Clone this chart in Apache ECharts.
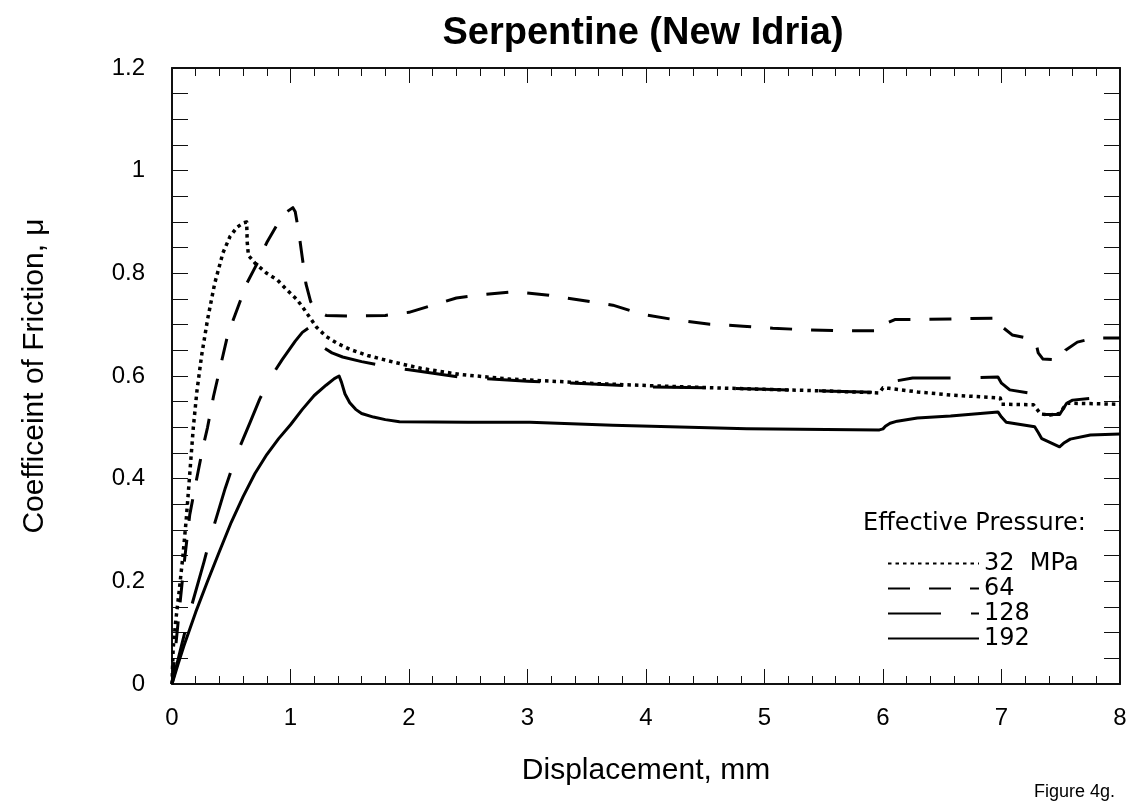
<!DOCTYPE html>
<html>
<head>
<meta charset="utf-8">
<script src="https://cdn.jsdelivr.net/npm/echarts@6/dist/echarts.min.js"></script>
<style>
html,body{margin:0;padding:0;background:#fff;}
#chart{width:1138px;height:807px;}
</style>
</head>
<body>
<div id="chart"></div>
<script>
// Displacement (mm) vs coefficient of friction
const p32 = [[0,0],[0.01,0.07],[0.03,0.12],[0.06,0.18],[0.09,0.245],[0.12,0.32],[0.15,0.41],[0.18,0.5],[0.21,0.57],[0.25,0.64],[0.3,0.71],[0.36,0.78],[0.43,0.84],[0.49,0.872],[0.55,0.89],[0.6,0.898],[0.63,0.9],[0.635,0.86],[0.645,0.835],[0.7,0.82],[0.8,0.8],[0.89,0.787],[0.96,0.77],[1.05,0.75],[1.1,0.735],[1.16,0.715],[1.22,0.695],[1.3,0.677],[1.4,0.663],[1.5,0.652],[1.65,0.64],[1.87,0.627],[2.1,0.615],[2.43,0.603],[2.85,0.594],[3.2,0.59],[3.6,0.585],[4.29,0.579],[5,0.574],[5.5,0.571],[5.97,0.567],[6.0,0.577],[6.05,0.576],[6.29,0.569],[6.57,0.563],[6.99,0.557],[7.0,0.545],[7.27,0.544],[7.3,0.535],[7.33,0.526],[7.41,0.524],[7.49,0.527],[7.53,0.54],[7.56,0.547],[7.8,0.546],[8,0.545]];
const p64 = [[0,0],[0.03,0.07],[0.06,0.14],[0.1,0.23],[0.15,0.33],[0.2,0.39],[0.26,0.46],[0.3,0.5],[0.35,0.56],[0.4,0.61],[0.47,0.68],[0.55,0.73],[0.63,0.78],[0.72,0.82],[0.8,0.86],[0.9,0.9],[0.97,0.92],[1.02,0.928],[1.04,0.92],[1.07,0.88],[1.1,0.83],[1.13,0.78],[1.17,0.745],[1.22,0.727],[1.3,0.718],[1.5,0.717],[1.8,0.718],[2.0,0.724],[2.2,0.738],[2.4,0.752],[2.6,0.758],[2.88,0.764],[3.16,0.758],[3.44,0.748],[3.72,0.738],[3.97,0.72],[4.26,0.709],[4.54,0.701],[4.82,0.697],[5.07,0.693],[5.36,0.69],[5.64,0.688],[5.97,0.688],[6.0,0.7],[6.1,0.71],[6.57,0.711],[6.99,0.713],[7.01,0.695],[7.09,0.68],[7.22,0.674],[7.29,0.665],[7.31,0.645],[7.35,0.633],[7.49,0.631],[7.54,0.65],[7.64,0.666],[7.78,0.674],[8,0.674]];
const p128 = [[0,0],[0.08,0.075],[0.16,0.148],[0.27,0.238],[0.33,0.29],[0.45,0.382],[0.55,0.45],[0.66,0.51],[0.74,0.555],[0.84,0.6],[0.93,0.632],[1.04,0.668],[1.1,0.685],[1.15,0.693],[1.19,0.695],[1.22,0.688],[1.25,0.672],[1.28,0.655],[1.35,0.645],[1.44,0.637],[1.6,0.628],[1.82,0.618],[2.0,0.612],[2.43,0.598],[3,0.59],[3.5,0.585],[4,0.579],[4.5,0.577],[5,0.574],[5.5,0.571],[5.98,0.568],[6.02,0.578],[6.1,0.59],[6.25,0.596],[6.71,0.596],[6.97,0.598],[7.0,0.586],[7.07,0.573],[7.28,0.565],[7.31,0.54],[7.35,0.525],[7.49,0.525],[7.55,0.547],[7.6,0.553],[7.79,0.557],[8,0.559]];
const p192 = [[0,0],[0.05,0.038],[0.1,0.074],[0.2,0.14],[0.3,0.2],[0.4,0.258],[0.5,0.315],[0.6,0.365],[0.7,0.41],[0.8,0.447],[0.9,0.478],[1.0,0.505],[1.1,0.535],[1.2,0.562],[1.3,0.582],[1.37,0.595],[1.41,0.6],[1.43,0.588],[1.46,0.565],[1.5,0.548],[1.55,0.535],[1.6,0.527],[1.7,0.52],[1.8,0.515],[1.92,0.511],[2.5,0.51],[3.02,0.51],[3.72,0.504],[4.85,0.497],[5.97,0.495],[6.0,0.497],[6.02,0.502],[6.06,0.508],[6.12,0.512],[6.29,0.518],[6.57,0.522],[6.97,0.53],[7.0,0.52],[7.04,0.51],[7.28,0.501],[7.31,0.49],[7.34,0.478],[7.49,0.462],[7.53,0.47],[7.58,0.477],[7.75,0.485],[8,0.487]];
const seriesNames = ['32  MPa', '64', '128', '192'];
const seriesData = [p32, p64, p128, p192];
const dashTypes = [[3.5, 4], [22, 19], [53, 30], 'solid'];

const chart = echarts.init(document.getElementById('chart'), null, {renderer: 'canvas'});
const AX = '#111';
const fontMain = 'Liberation Sans, Arial, Helvetica, sans-serif';

function xAx(pos, showLabel) {
  return {
    type: 'value', position: pos, min: 0, max: 8, interval: 1,
    axisLine: {show: true, onZero: false, lineStyle: {color: AX, width: 2}},
    axisTick: {show: true, inside: true, length: 15, lineStyle: {color: AX, width: 1}},
    minorTick: {show: true, splitNumber: 5, length: 8, lineStyle: {color: AX, width: 1}},
    splitLine: {show: false},
    axisLabel: {show: showLabel, fontSize: 24, color: '#000', margin: 22, fontFamily: fontMain},
    name: showLabel ? 'Displacement, mm' : '',
    nameLocation: 'middle', nameGap: 72,
    nameTextStyle: {fontSize: 30, color: '#000', fontFamily: fontMain}
  };
}
function yAx(pos, showLabel) {
  return {
    type: 'value', position: pos, min: 0, max: 1.2, interval: 0.2,
    axisLine: {show: true, onZero: false, lineStyle: {color: AX, width: 2}},
    axisTick: {show: true, inside: true, length: 16, lineStyle: {color: AX, width: 1}},
    minorTick: {show: true, splitNumber: 4, length: 16, lineStyle: {color: AX, width: 1}},
    splitLine: {show: false},
    axisLabel: {show: showLabel, fontSize: 24, color: '#000', margin: 27, fontFamily: fontMain},
    name: showLabel ? 'Coefficeint of Friction, μ' : '',
    nameLocation: 'middle', nameGap: 122, nameRotate: 90,
    nameTextStyle: {fontSize: 30, color: '#000', fontFamily: fontMain}
  };
}

const option = {
  backgroundColor: '#fff',
  animation: false,
  title: {
    text: 'Serpentine (New Idria)',
    left: 638, top: 10, textAlign: 'center',
    textStyle: {fontSize: 38, fontWeight: 'bold', color: '#000', fontFamily: fontMain}
  },
  grid: {left: 172, right: 18, top: 68, bottom: 123, containLabel: false},
  xAxis: [xAx('bottom', true), xAx('top', false)],
  yAxis: [yAx('left', true), yAx('right', false)],
  legend: {
    data: seriesNames,
    orient: 'vertical',
    left: 887, top: 551,
    itemWidth: 91, itemHeight: 14, itemGap: 0,
    padding: 0,
    itemStyle: {opacity: 0, borderWidth: 0},
    textStyle: {fontSize: 24, lineHeight: 25, color: '#000', fontFamily: 'DejaVu Sans, sans-serif'},
    selectedMode: false
  },
  graphic: [
    {type: 'text', left: 863, top: 512,
     style: {text: 'Effective Pressure:', fontSize: 24, fill: '#000', fontFamily: 'DejaVu Sans, sans-serif'}},
    {type: 'text', right: 23, top: 783,
     style: {text: 'Figure 4g.', fontSize: 18, fill: '#000', fontFamily: fontMain}}
  ],
  series: seriesNames.map((nm, i) => ({
    name: nm,
    type: 'line',
    xAxisIndex: 0, yAxisIndex: 0,
    data: seriesData[i],
    showSymbol: false, symbol: 'none',
    smooth: false,
    lineStyle: {color: '#000', width: i === 0 ? 3.5 : 3, type: dashTypes[i], cap: 'butt', join: 'round'},
    itemStyle: {color: '#000'}
  }))
};
chart.setOption(option);
</script>
</body>
</html>
